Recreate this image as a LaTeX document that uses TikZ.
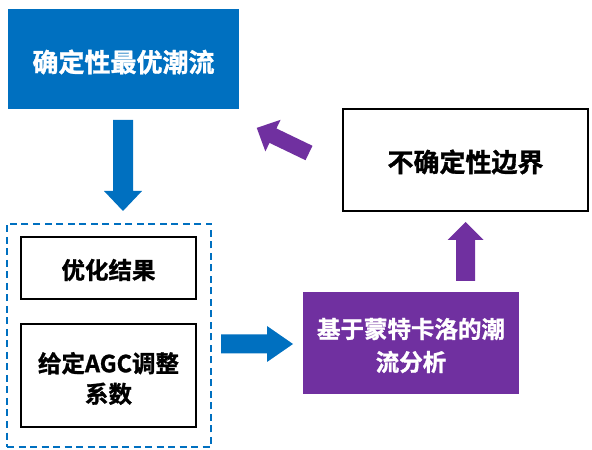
\documentclass[tikz,border=0pt]{standalone}
\usepackage{fontspec}
\setmainfont{Noto Sans CJK SC}[BoldFont={Noto Sans CJK SC Bold}, BoldFeatures={FakeBold=1.2}]
\definecolor{mblue}{HTML}{0070C0}
\definecolor{mpurple}{HTML}{7030A0}
\newcommand\fatarrow[7]{\fill[#1,shift={(#2)},rotate=#3] (0,{-#5/2}) -- ({#4-#7},{-#5/2}) -- ({#4-#7},{-#6/2}) -- (#4,0) -- ({#4-#7},{#6/2}) -- ({#4-#7},{#5/2}) -- (0,{#5/2}) -- cycle;}
\tikzset{
  bigtxt/.style={font=\bfseries\fontsize{26}{32}\selectfont, inner sep=0pt, align=center},
  smalltxt/.style={font=\bfseries\fontsize{23.5}{32}\selectfont, inner sep=0pt, align=center},
  bluebox/.style={fill=mblue, draw=none, inner sep=0pt},
  purplebox/.style={fill=mpurple, draw=none, inner sep=0pt},
  whitebox/.style={fill=white, draw=black, line width=1.6pt, inner sep=0pt},
  groupbox/.style={draw=mblue, line width=1.5pt, dash pattern=on 7pt off 4.5pt},
  bluearrow/.style={fill=mblue},
  purplearrow/.style={fill=mpurple}
}
\begin{document}
\begin{tikzpicture}[x=1pt,y=1pt]
\useasboundingbox (0,0) rectangle (592,450);
\fill[white] (0,0) rectangle (592,450);
% boxes
\node[bluebox, minimum width=231pt, minimum height=100pt] (det) at (123.5,391) {};
\node[whitebox, minimum width=245pt, minimum height=102pt] (unc) at (465.5,290) {};
\node[purplebox, minimum width=216pt, minimum height=102pt] (mc) at (411,107) {};
\node[whitebox, minimum width=175pt, minimum height=62pt] (opt) at (108.5,182) {};
\node[whitebox, minimum width=175pt, minimum height=103pt] (agc) at (108.5,74.5) {};
\node[groupbox, minimum width=204pt, minimum height=223pt, inner sep=0pt] (grp) at (109,114.5) {};
% texts
\node[bigtxt, text=white, yshift=-3pt] (detT) at (det.center) {确定性最优潮流};
\node[bigtxt, text=black, yshift=-2pt] (uncT) at (unc.center) {不确定性边界};
\node[smalltxt, text=white, yshift=-2.5pt] (mcT) at (mc.center) {基于蒙特卡洛的潮\\[1pt]流分析};
\node[smalltxt, text=black, yshift=-2pt] (optT) at (opt.center) {优化结果};
\node[smalltxt, text=black, yshift=-3pt] (agcT) at (agc.center) {给定AGC调整\\[-1.5pt]系数};
% arrow tails
\coordinate (a1) at (123,330);
\coordinate (a2) at (221,106);
\coordinate (a3) at (465.5,169);
\coordinate (a4) at (309,297);
\fatarrow{bluearrow}{a1}{-90}{91}{20}{38}{20}
\fatarrow{bluearrow}{a2}{0}{72}{19}{36}{26}
\fatarrow{purplearrow}{a3}{90}{59}{19}{36}{18}
\fatarrow{purplearrow}{a4}{154.3}{58}{16}{35}{18}
\end{tikzpicture}
\end{document}
